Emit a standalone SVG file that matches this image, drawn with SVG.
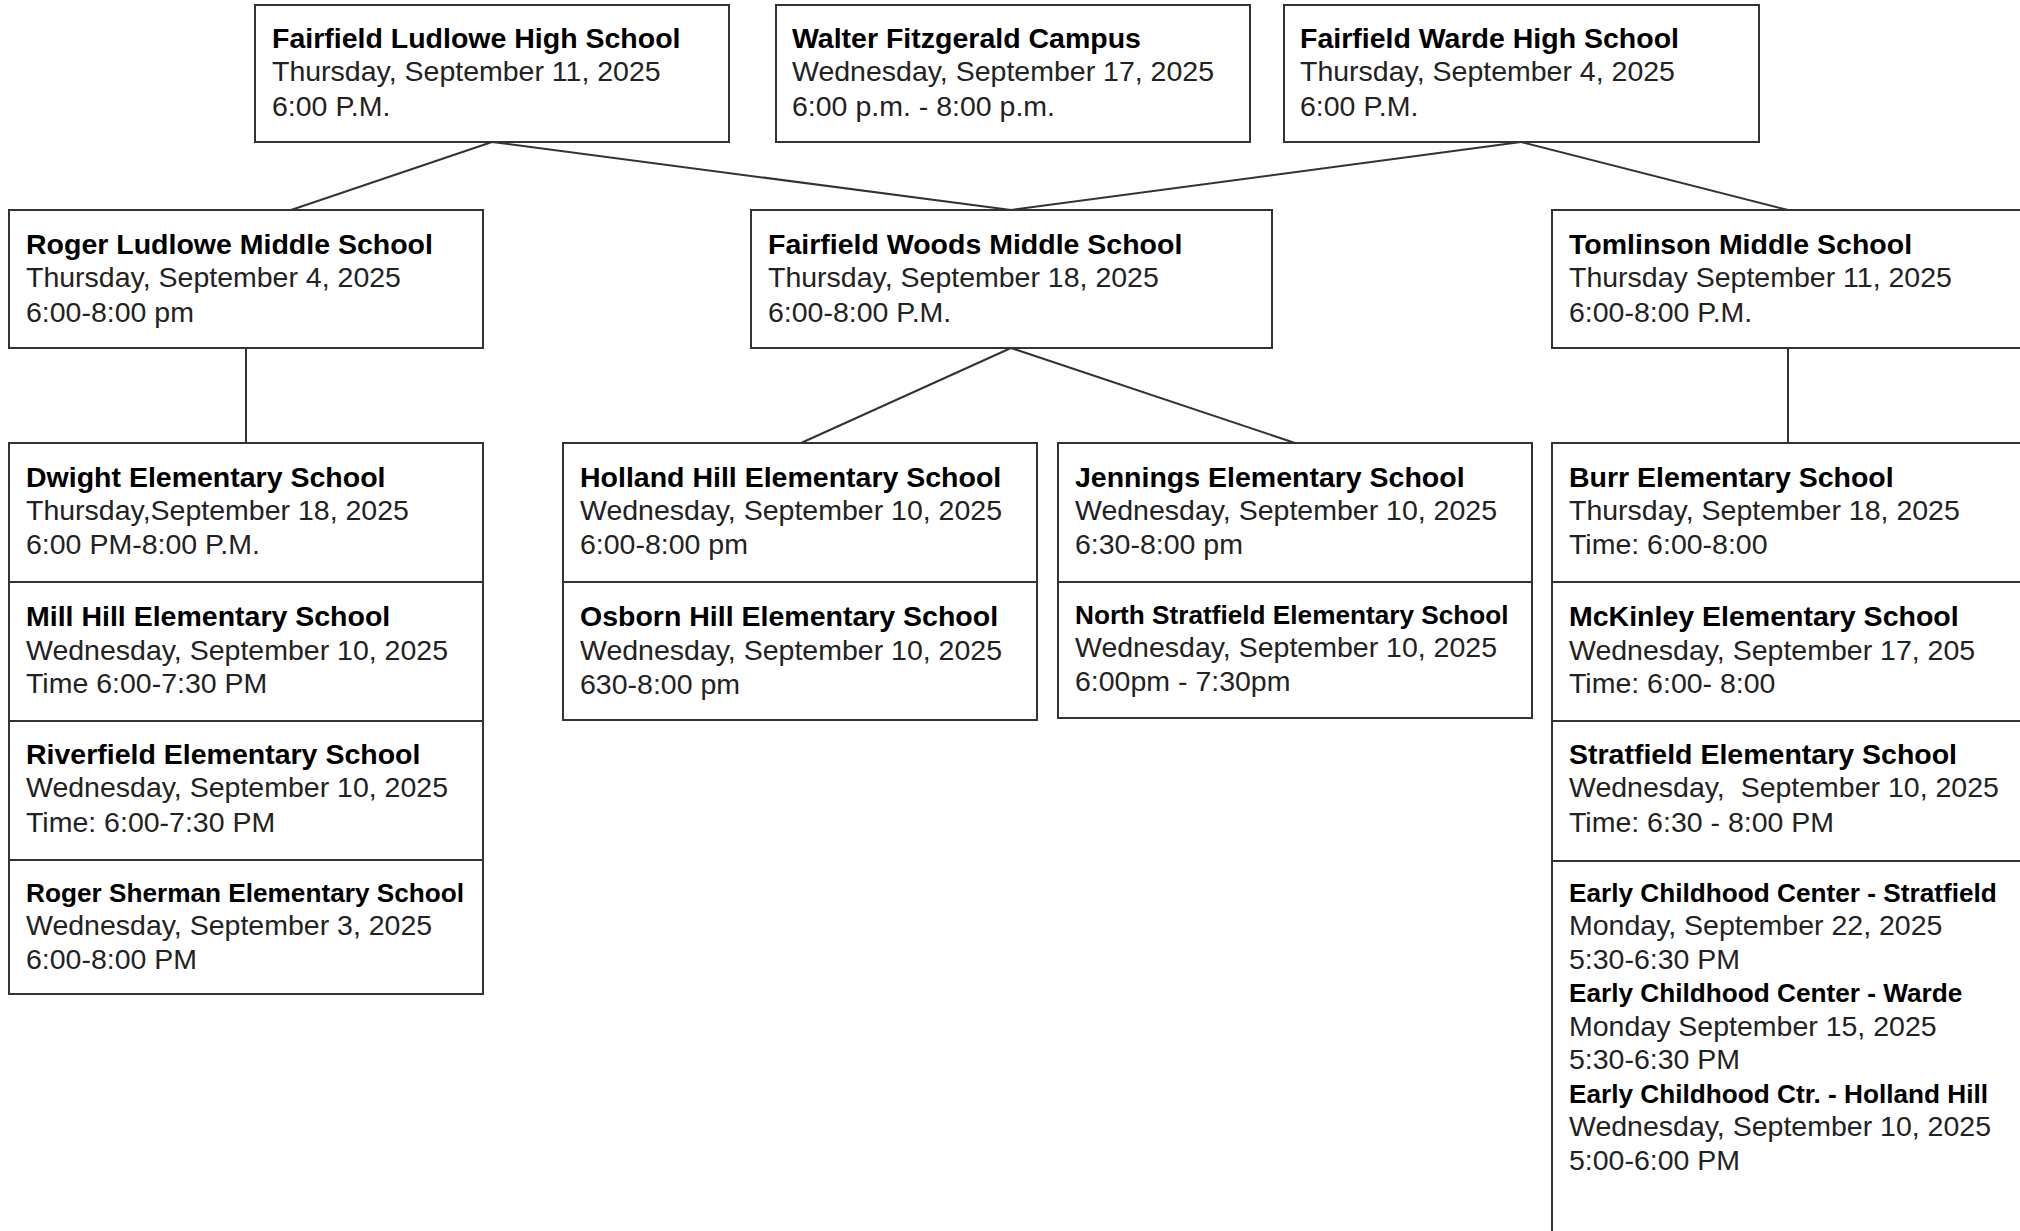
<svg xmlns="http://www.w3.org/2000/svg" width="2020" height="1231" viewBox="0 0 2020 1231">
<style>
.box{fill:#fff;stroke:#333;stroke-width:2}
.ln{stroke:#333;stroke-width:2;fill:none}
text{font-family:"Liberation Sans",Arial,sans-serif;font-size:28.5px;fill:#000;white-space:pre}
.b{font-weight:bold}
.s{font-size:26.2px}
.r{fill:#222}
</style>
<rect width="2020" height="1231" fill="#fff"/>
<g id="connectors">
<line class="ln" x1="492" y1="142" x2="291" y2="210"/>
<line class="ln" x1="492" y1="142" x2="1011" y2="210"/>
<line class="ln" x1="1521" y1="142" x2="1011" y2="210"/>
<line class="ln" x1="1521" y1="142" x2="1788" y2="210"/>
<line class="ln" x1="246" y1="348" x2="246" y2="443"/>
<line class="ln" x1="1011" y1="348" x2="801" y2="443"/>
<line class="ln" x1="1011" y1="348" x2="1295" y2="443"/>
<line class="ln" x1="1788" y1="348" x2="1788" y2="443"/>
</g>
<g id="flhs"><rect class="box" x="255" y="5" width="474" height="137"/>
<text class="b" x="272" y="48">Fairfield Ludlowe High School</text>
<text class="r" x="272" y="81">Thursday, September 11, 2025</text>
<text class="r" x="272" y="116">6:00 P.M.</text></g>
<g id="wfc"><rect class="box" x="776" y="5" width="474" height="137"/>
<text class="b" x="792" y="48">Walter Fitzgerald Campus</text>
<text class="r" x="792" y="81">Wednesday, September 17, 2025</text>
<text class="r" x="792" y="116">6:00 p.m. - 8:00 p.m.</text></g>
<g id="fwhs"><rect class="box" x="1284" y="5" width="475" height="137"/>
<text class="b" x="1300" y="48">Fairfield Warde High School</text>
<text class="r" x="1300" y="81">Thursday, September 4, 2025</text>
<text class="r" x="1300" y="116">6:00 P.M.</text></g>
<g id="rlms"><rect class="box" x="9" y="210" width="474" height="138"/>
<text class="b" x="26" y="254">Roger Ludlowe Middle School</text>
<text class="r" x="26" y="287">Thursday, September 4, 2025</text>
<text class="r" x="26" y="322">6:00-8:00 pm</text></g>
<g id="fwms"><rect class="box" x="751" y="210" width="521" height="138"/>
<text class="b" x="768" y="254">Fairfield Woods Middle School</text>
<text class="r" x="768" y="287">Thursday, September 18, 2025</text>
<text class="r" x="768" y="322">6:00-8:00 P.M.</text></g>
<g id="tms"><rect class="box" x="1552" y="210" width="480" height="138"/>
<text class="b" x="1569" y="254">Tomlinson Middle School</text>
<text class="r" x="1569" y="287">Thursday September 11, 2025</text>
<text class="r" x="1569" y="322">6:00-8:00 P.M.</text></g>
<g id="dwight"><rect class="box" x="9" y="443" width="474" height="139"/>
<text class="b" x="26" y="487">Dwight Elementary School</text>
<text class="r" x="26" y="520">Thursday,September 18, 2025</text>
<text class="r" x="26" y="554">6:00 PM-8:00 P.M.</text></g>
<g id="millhill"><rect class="box" x="9" y="582" width="474" height="139"/>
<text class="b" x="26" y="626">Mill Hill Elementary School</text>
<text class="r" x="26" y="660">Wednesday, September 10, 2025</text>
<text class="r" x="26" y="693">Time 6:00-7:30 PM</text></g>
<g id="riverfield"><rect class="box" x="9" y="721" width="474" height="139"/>
<text class="b" x="26" y="764">Riverfield Elementary School</text>
<text class="r" x="26" y="797">Wednesday, September 10, 2025</text>
<text class="r" x="26" y="832">Time: 6:00-7:30 PM</text></g>
<g id="rogersherman"><rect class="box" x="9" y="860" width="474" height="134"/>
<text class="b s" x="26" y="902">Roger Sherman Elementary School</text>
<text class="r" x="26" y="935">Wednesday, September 3, 2025</text>
<text class="r" x="26" y="969">6:00-8:00 PM</text></g>
<g id="hollandhill"><rect class="box" x="563" y="443" width="474" height="139"/>
<text class="b" x="580" y="487">Holland Hill Elementary School</text>
<text class="r" x="580" y="520">Wednesday, September 10, 2025</text>
<text class="r" x="580" y="554">6:00-8:00 pm</text></g>
<g id="osbornhill"><rect class="box" x="563" y="582" width="474" height="138"/>
<text class="b" x="580" y="626">Osborn Hill Elementary School</text>
<text class="r" x="580" y="660">Wednesday, September 10, 2025</text>
<text class="r" x="580" y="694">630-8:00 pm</text></g>
<g id="jennings"><rect class="box" x="1058" y="443" width="474" height="139"/>
<text class="b" x="1075" y="487">Jennings Elementary School</text>
<text class="r" x="1075" y="520">Wednesday, September 10, 2025</text>
<text class="r" x="1075" y="554">6:30-8:00 pm</text></g>
<g id="northstratfield"><rect class="box" x="1058" y="582" width="474" height="136"/>
<text class="b s" x="1075" y="624">North Stratfield Elementary School</text>
<text class="r" x="1075" y="657">Wednesday, September 10, 2025</text>
<text class="r" x="1075" y="691">6:00pm - 7:30pm</text></g>
<g id="burr"><rect class="box" x="1552" y="443" width="480" height="139"/>
<text class="b" x="1569" y="487">Burr Elementary School</text>
<text class="r" x="1569" y="520">Thursday, September 18, 2025</text>
<text class="r" x="1569" y="554">Time: 6:00-8:00</text></g>
<g id="mckinley"><rect class="box" x="1552" y="582" width="480" height="139"/>
<text class="b" x="1569" y="626">McKinley Elementary School</text>
<text class="r" x="1569" y="660">Wednesday, September 17, 205</text>
<text class="r" x="1569" y="693">Time: 6:00- 8:00</text></g>
<g id="stratfield"><rect class="box" x="1552" y="721" width="480" height="140"/>
<text class="b" x="1569" y="764">Stratfield Elementary School</text>
<text class="r" x="1569" y="797">Wednesday,  September 10, 2025</text>
<text class="r" x="1569" y="832">Time: 6:30 - 8:00 PM</text></g>
<g id="ecc"><rect class="box" x="1552" y="861" width="480" height="380"/>
<text class="b s" x="1569" y="902">Early Childhood Center - Stratfield</text>
<text class="r" x="1569" y="935">Monday, September 22, 2025</text>
<text class="r" x="1569" y="969">5:30-6:30 PM</text>
<text class="b s" x="1569" y="1002">Early Childhood Center - Warde</text>
<text class="r" x="1569" y="1036">Monday September 15, 2025</text>
<text class="r" x="1569" y="1069">5:30-6:30 PM</text>
<text class="b s" x="1569" y="1103">Early Childhood Ctr. - Holland Hill</text>
<text class="r" x="1569" y="1136">Wednesday, September 10, 2025</text>
<text class="r" x="1569" y="1170">5:00-6:00 PM</text></g>
</svg>
